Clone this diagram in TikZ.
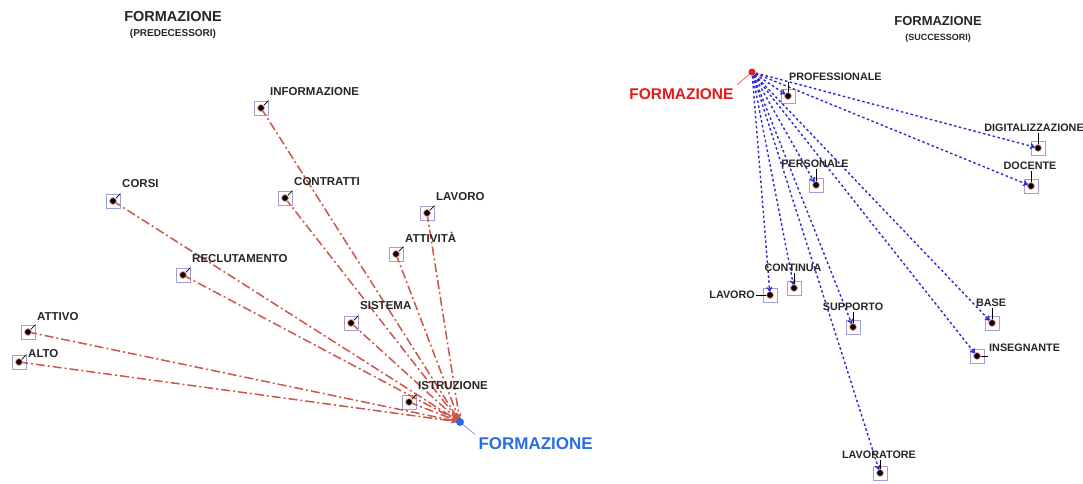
\documentclass[tikz,border=0pt]{standalone}
\usepackage{fontspec}
\setmainfont{Liberation Sans}
\usetikzlibrary{arrows.meta}
\definecolor{predred}{RGB}{205,85,75}
\definecolor{succblue}{RGB}{40,40,215}
\definecolor{boxcol}{RGB}{160,160,215}
\definecolor{tgtblue}{RGB}{40,110,225}
\definecolor{srcred}{RGB}{230,25,25}
\tikzset{
  itembox/.style={draw=boxcol, line width=0.8pt, minimum size=14pt, inner sep=0pt, fill=white},
  lbl/.style={font=\bfseries\fontsize{11.5}{13}\selectfont, inner sep=1pt, text=black!85},
  rlbl/.style={font=\bfseries\fontsize{10.8}{13}\selectfont, inner sep=1pt, text=black!85},
  ttl/.style={font=\bfseries\fontsize{14.5}{16}\selectfont, text=black!85},
  rttl/.style={font=\bfseries\fontsize{13}{15}\selectfont, text=black!85},
  sub/.style={font=\bfseries\fontsize{10}{11}\selectfont, text=black!85},
  rsub/.style={font=\bfseries\fontsize{9}{10}\selectfont, text=black!85},
  dot/.style={fill=black, draw=red!35, line width=0.8pt},
  tick/.style={draw=black, line width=0.7pt},
  pred/.style={draw=predred, line width=1.5pt, dash pattern=on 9pt off 3pt on 2pt off 3pt, -{Stealth[length=8pt,width=5pt]}, shorten >=1pt},
  succ/.style={draw=succblue, line width=1.4pt, dash pattern=on 2.5pt off 2.5pt, -{To[length=5pt,width=6pt]}, shorten >=3pt, shorten <=4pt},
  bigblue/.style={font=\bfseries\fontsize{17}{20}\selectfont, text=tgtblue},
  bigred/.style={font=\bfseries\fontsize{15.5}{18}\selectfont, text=srcred},
}
\begin{document}
\begin{tikzpicture}[x=1pt,y=-1pt]
\useasboundingbox (0,0) rectangle (1083,483);
% ===== titles
\node[ttl] (t1) at (173,17) {FORMAZIONE};
\node[sub] (s1) at (173,34) {(PREDECESSORI)};
\node[rttl] (t2) at (938,21) {FORMAZIONE};
\node[rsub] (s2) at (938,38) {(SUCCESSORI)};
% ===== left boxes
\node[itembox] (bInf) at (261,108) {};
\node[itembox] (bCor) at (113,201) {};
\node[itembox] (bCon) at (285,198) {};
\node[itembox] (bLav) at (427,213) {};
\node[itembox] (bAtt) at (396,254) {};
\node[itembox] (bRec) at (183,275) {};
\node[itembox] (bSis) at (351,323) {};
\node[itembox] (bAtv) at (28,332) {};
\node[itembox] (bAlt) at (19,362) {};
\node[itembox] (bIst) at (409,402) {};
\coordinate (T) at (460,422);
% left edges
\foreach \b in {bInf,bCor,bCon,bLav,bAtt,bRec,bSis,bAtv,bAlt,bIst}
  \draw[pred] (\b.center) -- (T);
% left labels
\node[lbl,anchor=west] (lInf) at (269,92) {INFORMAZIONE};
\node[lbl,anchor=west] (lCor) at (121,184) {CORSI};
\node[lbl,anchor=west] (lCon) at (293,182) {CONTRATTI};
\node[lbl,anchor=west] (lLav) at (435,197) {LAVORO};
\node[lbl,anchor=west] (lAtt) at (404,237) {ATTIVITÀ};
\node[lbl,anchor=west] (lRec) at (191,259) {RECLUTAMENTO};
\node[lbl,anchor=west] (lSis) at (359,306) {SISTEMA};
\node[lbl,anchor=west] (lAtv) at (36,317) {ATTIVO};
\node[lbl,anchor=west] (lAlt) at (27,354) {ALTO};
\node[lbl,anchor=west] (lIst) at (417,386) {ISTRUZIONE};
\foreach \b/\l in {bInf/lInf,bCor/lCor,bCon/lCon,bLav/lLav,bAtt/lAtt,bRec/lRec,bSis/lSis,bAtv/lAtv,bAlt/lAlt,bIst/lIst}{
  \draw[tick] (\b.center) -- (\b.north east);
  \fill[dot] (\b.center) circle (3.5pt);
}
% target
\node[bigblue,anchor=west] (lT) at (475,444) {FORMAZIONE};
\draw[tgtblue!60, line width=0.9pt] (lT.north west) -- (T);
\fill[tgtblue] (T) circle (4pt);
% ===== right side
\coordinate (S) at (752,72);
\node[itembox] (rPro) at (788,96) {};
\node[itembox] (rDig) at (1038,148) {};
\node[itembox] (rDoc) at (1031,186) {};
\node[itembox] (rPer) at (816,185) {};
\node[itembox] (rCon) at (794,288) {};
\node[itembox] (rLav) at (770,295) {};
\node[itembox] (rSup) at (853,327) {};
\node[itembox] (rBas) at (992,323) {};
\node[itembox] (rIns) at (977,356) {};
\node[itembox] (rLvt) at (880,473) {};
\foreach \b in {rPro,rDig,rDoc,rPer,rCon,rLav,rSup,rBas,rIns,rLvt}
  \draw[succ] (S) -- (\b.center);
\node[rlbl,anchor=west] (mPro) at (788,77) {PROFESSIONALE};
\node[rlbl] (mDig) at (1034,128) {DIGITALIZZAZIONE};
\node[rlbl] (mDoc) at (1030,166) {DOCENTE};
\node[rlbl] (mPer) at (815,164) {PERSONALE};
\node[rlbl] (mCon) at (793,268) {CONTINUA};
\node[rlbl,anchor=east] (mLav) at (756,295) {LAVORO};
\node[rlbl] (mSup) at (853,307) {SUPPORTO};
\node[rlbl] (mBas) at (991,303) {BASE};
\node[rlbl,anchor=west] (mIns) at (988,348) {INSEGNANTE};
\node[rlbl] (mLvt) at (879,455) {LAVORATORE};
\foreach \b/\l in {rPro/mPro,rDig/mDig,rDoc/mDoc,rPer/mPer,rCon/mCon,rSup/mSup,rBas/mBas,rLvt/mLvt}{
  \draw[tick] (\b.center) -- (\b.center |- \l.south);
}
\draw[tick] (rLav.center) -- (mLav.east);
\draw[tick] (rIns.center) -- (rIns.center -| mIns.west);
\foreach \b in {rPro,rDig,rDoc,rPer,rCon,rLav,rSup,rBas,rIns,rLvt}
  \fill[dot] (\b.center) circle (3.5pt);
\node[bigred,anchor=east] (lS) at (737,94) {FORMAZIONE};
\draw[srcred!60, line width=0.9pt] (lS.north east) -- (S);
\fill[srcred] (S) circle (3.5pt);
\end{tikzpicture}
\end{document}
